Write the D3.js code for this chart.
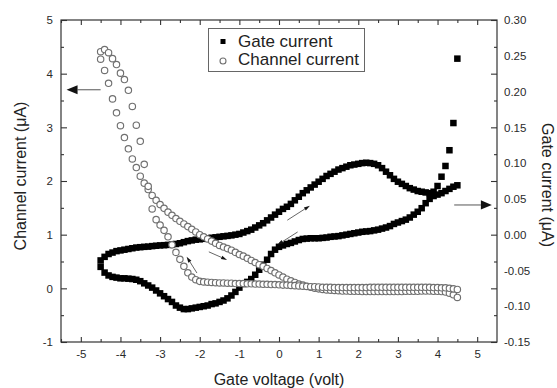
<!DOCTYPE html>
<html>
<head>
<meta charset="utf-8">
<script src="https://cdn.jsdelivr.net/npm/d3@7"></script>
<style>
  body { margin: 0; background: #fff; }
  svg { display: block; font-family: "Liberation Sans", Arial, sans-serif; }
</style>
</head>
<body>
<svg id="chart" width="557" height="388"></svg>
<script>
// sweep steps (volt), same grid for both sweep directions
const sweepVoltage = [-4.5, -4.4, -4.3, -4.2, -4.1, -4.0, -3.9, -3.8, -3.7, -3.6,
  -3.5, -3.4, -3.3, -3.2, -3.1, -3.0, -2.9, -2.8, -2.7, -2.6,
  -2.5, -2.4, -2.3, -2.2, -2.1, -2.0, -1.9, -1.8, -1.7, -1.6,
  -1.5, -1.4, -1.3, -1.2, -1.1, -1.0, -0.9, -0.8, -0.7, -0.6,
  -0.5, -0.4, -0.3, -0.2, -0.1, 0.0, 0.1, 0.2, 0.3, 0.4,
  0.5, 0.6, 0.7, 0.8, 0.9, 1.0, 1.1, 1.2, 1.3, 1.4,
  1.5, 1.6, 1.7, 1.8, 1.9, 2.0, 2.1, 2.2, 2.3, 2.4,
  2.5, 2.6, 2.7, 2.8, 2.9, 3.0, 3.1, 3.2, 3.3, 3.4,
  3.5, 3.6, 3.7, 3.8, 3.9, 4.0, 4.1, 4.2, 4.3, 4.4, 4.5]

// gate current (uA), sweep going up (-4.5 -> 4.5)
const gateUp = [-0.036, -0.031, -0.027, -0.025, -0.023, -0.022, -0.021, -0.020, -0.019, -0.018,
  -0.0175, -0.017, -0.0167, -0.016, -0.0155, -0.015, -0.0147, -0.0143, -0.014, -0.013,
  -0.012, -0.0105, -0.009, -0.008, -0.007, -0.0065, -0.0058, -0.005, -0.0043, -0.0037,
  -0.003, -0.0023, -0.0017, -0.001, 0.0, 0.001, 0.003, 0.005, 0.007, 0.010,
  0.013, 0.016, 0.020, 0.024, 0.028, 0.032, 0.036, 0.039, 0.043, 0.048,
  0.053, 0.058, 0.062, 0.066, 0.070, 0.074, 0.078, 0.082, 0.085, 0.088,
  0.091, 0.093, 0.095, 0.097, 0.098, 0.099, 0.100, 0.1005, 0.100, 0.099,
  0.097, 0.093, 0.088, 0.083, 0.078, 0.074, 0.071, 0.068, 0.065, 0.063,
  0.061, 0.060, 0.059, 0.058, 0.060, 0.068, 0.081, 0.096, 0.118, 0.156, 0.246]

// gate current (uA), sweep going down (listed in the same voltage order)
const gateDown = [-0.045, -0.053, -0.057, -0.059, -0.060, -0.061, -0.061, -0.0615, -0.062, -0.063,
  -0.065, -0.068, -0.071, -0.074, -0.078, -0.082, -0.086, -0.090, -0.094, -0.099,
  -0.102, -0.104, -0.104, -0.103, -0.102, -0.101, -0.100, -0.099, -0.097, -0.096,
  -0.094, -0.092, -0.089, -0.085, -0.080, -0.074, -0.069, -0.066, -0.062, -0.056,
  -0.049, -0.042, -0.035, -0.027, -0.021, -0.017, -0.015, -0.013, -0.0115, -0.0095,
  -0.0075, -0.006, -0.0055, -0.005, -0.005, -0.005, -0.0045, -0.004, -0.003, -0.0025,
  -0.002, -0.001, 0.0, 0.001, 0.002, 0.003, 0.004, 0.0045, 0.005, 0.006,
  0.007, 0.0085, 0.010, 0.012, 0.015, 0.017, 0.019, 0.021, 0.024, 0.028,
  0.032, 0.037, 0.044, 0.050, 0.054, 0.056, 0.058, 0.061, 0.064, 0.067, 0.069]

// channel current (uA), sweep going up
const channelUp = [4.27, 4.06, 3.82, 3.53, 3.27, 3.03, 2.81, 2.60, 2.41, 2.25,
  2.09, 1.96, 1.84, 1.73, 1.64, 1.56, 1.49, 1.42, 1.36, 1.30,
  1.25, 1.20, 1.15, 1.10, 1.05, 1.00, 0.96, 0.92, 0.88, 0.84,
  0.80, 0.77, 0.74, 0.71, 0.67, 0.63, 0.60, 0.56, 0.52, 0.48,
  0.44, 0.41, 0.37, 0.33, 0.29, 0.25, 0.21, 0.17, 0.14, 0.11,
  0.08, 0.06, 0.04, 0.02, 0.00, -0.01, -0.02, -0.03, -0.035, -0.04,
  -0.045, -0.05, -0.05, -0.055, -0.055, -0.055, -0.06, -0.06, -0.06, -0.06,
  -0.06, -0.06, -0.06, -0.06, -0.06, -0.06, -0.06, -0.055, -0.055, -0.055,
  -0.055, -0.05, -0.05, -0.05, -0.055, -0.055, -0.06, -0.07, -0.09, -0.12, -0.17]

// channel current (uA), sweep going down (listed in the same voltage order)
const channelDown = [4.41, 4.45, 4.39, 4.28, 4.17, 4.01, 3.89, 3.69, 3.39, 3.04,
  2.74, 2.31, 1.90, 1.48, 1.28, 1.18, 1.08, 0.96, 0.81, 0.67,
  0.54, 0.41, 0.29, 0.21, 0.16, 0.13, 0.12, 0.115, 0.11, 0.105,
  0.10, 0.10, 0.095, 0.095, 0.09, 0.09, 0.09, 0.085, 0.085, 0.08,
  0.08, 0.075, 0.075, 0.07, 0.07, 0.065, 0.06, 0.06, 0.055, 0.05,
  0.045, 0.04, 0.035, 0.03, 0.03, 0.025, 0.02, 0.02, 0.02, 0.015,
  0.015, 0.015, 0.015, 0.015, 0.015, 0.015, 0.015, 0.015, 0.02, 0.02,
  0.02, 0.02, 0.02, 0.02, 0.02, 0.02, 0.02, 0.02, 0.02, 0.02,
  0.02, 0.02, 0.02, 0.02, 0.015, 0.015, 0.01, 0.01, 0.0, -0.01, -0.02]

// tick labels
const xTicks = [-5, -4, -3, -2, -1, 0, 1, 2, 3, 4, 5]
const xMinorTicks = [-5.5, -4.5, -3.5, -2.5, -1.5, -0.5, 0.5, 1.5, 2.5, 3.5, 4.5]
const leftTicks = [-1, 0, 1, 2, 3, 4, 5]
const leftMinorTicks = [-0.5, 0.5, 1.5, 2.5, 3.5, 4.5]
const rightTicks = [-0.15, -0.10, -0.05, 0.00, 0.05, 0.10, 0.15, 0.20, 0.25, 0.30]

const seriesNames = ["Gate current", "Channel current"]

// sweep direction arrows, in data units [volt, channel uA]
const sweepArrows = [
  { from: [-2.07, 0.285], to: [-2.33, 0.59] },
  { from: [-1.77, 0.68], to: [-1.31, 0.53] },
  { from: [0.21, 1.27], to: [0.78, 1.54] },
  { from: [0.47, 1.05], to: [-0.04, 0.81] }
]

const W = 557, H = 388
const margin = { top: 20, right: 60, bottom: 46, left: 61 }
const plotR = W - margin.right, plotB = H - margin.bottom

const svg = d3.select("#chart")

const x = d3.scaleLinear().domain([-5.5, 5.5]).range([margin.left, plotR])
const yL = d3.scaleLinear().domain([-1, 5]).range([plotB, margin.top])
const yR = d3.scaleLinear().domain([-0.15, 0.30]).range([plotB, margin.top])

const axisColor = "#333"

const styleAxis = g => {
  g.select(".domain").remove()
  g.attr("color", axisColor)
  g.selectAll("line").attr("stroke-width", 1.1)
  g.selectAll("text").attr("font-size", 11.5).attr("fill", "#2a2a2a")
    .attr("font-family", "'Liberation Sans', Arial, sans-serif")
}

// bottom axis
svg.append("g").attr("transform", `translate(0,${plotB})`)
  .call(d3.axisBottom(x).tickValues(xTicks).tickFormat(d => String(d)).tickSize(-5).tickSizeOuter(0).tickPadding(8))
  .call(styleAxis)
svg.append("g").attr("transform", `translate(0,${plotB})`)
  .call(d3.axisBottom(x).tickValues(xMinorTicks).tickFormat("").tickSize(-3).tickSizeOuter(0))
  .call(styleAxis)
// top mirror
svg.append("g").attr("transform", `translate(0,${margin.top})`)
  .call(d3.axisTop(x).tickValues(xTicks).tickFormat("").tickSize(-5).tickSizeOuter(0))
  .call(styleAxis)
svg.append("g").attr("transform", `translate(0,${margin.top})`)
  .call(d3.axisTop(x).tickValues(xMinorTicks).tickFormat("").tickSize(-3).tickSizeOuter(0))
  .call(styleAxis)

// left axis
svg.append("g").attr("transform", `translate(${margin.left},0)`)
  .call(d3.axisLeft(yL).tickValues(leftTicks).tickFormat(d => String(d)).tickSize(-6).tickSizeOuter(0).tickPadding(8))
  .call(styleAxis)
svg.append("g").attr("transform", `translate(${margin.left},0)`)
  .call(d3.axisLeft(yL).tickValues(leftMinorTicks).tickFormat("").tickSize(-3).tickSizeOuter(0))
  .call(styleAxis)
// right side: mirrored left ticks, labels of the gate axis
svg.append("g").attr("transform", `translate(${plotR},0)`)
  .call(d3.axisRight(yL).tickValues(leftTicks).tickFormat("").tickSize(-6).tickSizeOuter(0))
  .call(styleAxis)
svg.append("g").attr("transform", `translate(${plotR},0)`)
  .call(d3.axisRight(yL).tickValues(leftMinorTicks).tickFormat("").tickSize(-3).tickSizeOuter(0))
  .call(styleAxis)
svg.append("g").attr("transform", `translate(${plotR},0)`)
  .call(d3.axisRight(yR).tickValues(rightTicks).tickFormat(d => d.toFixed(2)).tickSize(0).tickSizeOuter(0).tickPadding(7))
  .call(styleAxis)

// frame
svg.append("rect")
  .attr("x", margin.left).attr("y", margin.top)
  .attr("width", plotR - margin.left).attr("height", plotB - margin.top)
  .attr("fill", "none").attr("stroke", axisColor).attr("stroke-width", 1.2)

// gate current squares
const gatePoints = sweepVoltage.map((v, i) => ({ v, g: gateUp[i] }))
  .concat(sweepVoltage.map((v, i) => ({ v, g: gateDown[i] })))
const sq = 6.5
svg.append("g")
  .selectAll("rect")
  .data(gatePoints)
  .join("rect")
  .attr("x", d => x(d.v) - sq / 2)
  .attr("y", d => yR(d.g) - sq / 2)
  .attr("width", sq).attr("height", sq)
  .attr("fill", "#000")

// channel current circles
const chanPoints = sweepVoltage.map((v, i) => ({ v, c: channelUp[i] }))
  .concat(sweepVoltage.map((v, i) => ({ v, c: channelDown[i] })))
svg.append("g")
  .selectAll("circle")
  .data(chanPoints)
  .join("circle")
  .attr("cx", d => x(d.v))
  .attr("cy", d => yL(d.c))
  .attr("r", 3.2)
  .attr("fill", "#fff")
  .attr("stroke", "#707070")
  .attr("stroke-width", 1.15)

// arrows
const drawArrow = (x1, y1, x2, y2, headLen, headW, color, width) => {
  const ang = Math.atan2(y2 - y1, x2 - x1)
  const bx = x2 - headLen * Math.cos(ang), by = y2 - headLen * Math.sin(ang)
  svg.append("line")
    .attr("x1", x1).attr("y1", y1).attr("x2", bx).attr("y2", by)
    .attr("stroke", color).attr("stroke-width", width)
  const px = -Math.sin(ang) * headW, py = Math.cos(ang) * headW
  svg.append("path")
    .attr("d", `M${x2},${y2}L${bx + px},${by + py}L${bx - px},${by - py}Z`)
    .attr("fill", "#111")
}

sweepArrows.forEach(a => {
  drawArrow(x(a.from[0]), yL(a.from[1]), x(a.to[0]), yL(a.to[1]), 6, 1.8, "#555", 0.9)
})
// axis pointers
drawArrow(x(-4.5), yL(3.7), x(-5.36), yL(3.7), 11, 4.6, "#555", 1)
drawArrow(x(4.42), yR(0.0415), x(5.37), yR(0.0415), 11, 4.6, "#555", 1)

// legend
const lg = svg.append("g")
lg.append("rect").attr("x", 208.5).attr("y", 28.5).attr("width", 156).attr("height", 43)
  .attr("fill", "#fff").attr("stroke", "#666").attr("stroke-width", 1)
lg.append("rect").attr("x", 220.5).attr("y", 39).attr("width", 5).attr("height", 5).attr("fill", "#000")
lg.append("circle").attr("cx", 223).attr("cy", 61).attr("r", 3)
  .attr("fill", "#fff").attr("stroke", "#707070").attr("stroke-width", 1.1)
lg.append("text").attr("x", 238).attr("y", 46.5).attr("font-size", 17).attr("fill", "#222").text(seriesNames[0])
lg.append("text").attr("x", 238).attr("y", 65).attr("font-size", 17).attr("fill", "#222").text(seriesNames[1])

// axis titles
svg.append("text")
  .attr("x", (margin.left + plotR) / 2).attr("y", 385)
  .attr("text-anchor", "middle").attr("font-size", 16).attr("fill", "#222")
  .text("Gate voltage (volt)")
svg.append("text")
  .attr("transform", `translate(26,176) rotate(-90)`)
  .attr("text-anchor", "middle").attr("font-size", 16).attr("fill", "#222")
  .text("Channel current (μA)")
svg.append("text")
  .attr("transform", `translate(542,185) rotate(90)`)
  .attr("text-anchor", "middle").attr("font-size", 16).attr("fill", "#222")
  .text("Gate current (μA)")
</script>
</body>
</html>
